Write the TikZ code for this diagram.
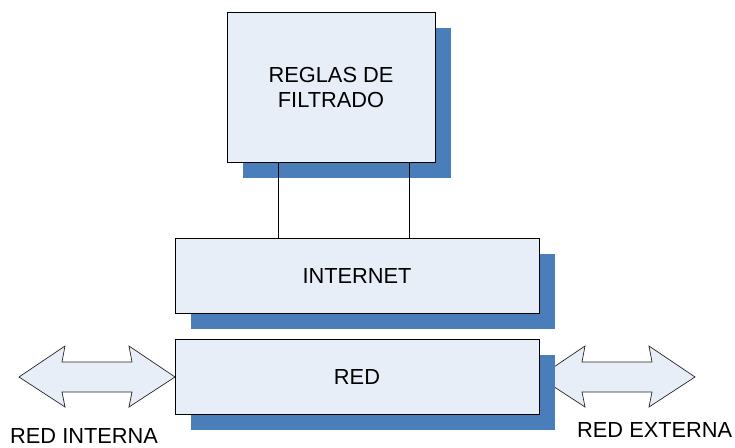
\documentclass[tikz,border=0pt]{standalone}
\usepackage{fontspec}
\setmainfont{Liberation Sans}
\usetikzlibrary{calc,shadows}
\definecolor{boxfill}{RGB}{232,238,248}
\definecolor{shadowblue}{RGB}{74,126,187}
\tikzset{
  block/.style={draw=black, line width=0.9pt, fill=boxfill, inner sep=0pt,
    align=center, font=\fontsize{21.8}{25}\selectfont,
    drop shadow={shadow xshift=16pt, shadow yshift=-15.5pt,
      fill=shadowblue, opacity=1}},
  bigarrow/.style={draw=black!85, line width=0.7pt, fill=boxfill, line join=miter},
  label/.style={font=\fontsize{21.8}{25}\selectfont, inner sep=0pt},
  link/.style={draw=black, line width=0.8pt}
}
\begin{document}
\begin{tikzpicture}[x=1pt,y=-1pt]
\useasboundingbox (0,0) rectangle (735,447);

% double arrows towards the internal and external networks
\draw[bigarrow] (19,377) -- (65,346) -- (62,362) -- (132,362) -- (129,346)
  -- (175,377) -- (129,407) -- (132,392) -- (62,392) -- (65,407) -- cycle;
\draw[bigarrow] (539,377) -- (585,346) -- (582,362) -- (652,362) -- (649,346)
  -- (695,377) -- (649,407) -- (652,392) -- (582,392) -- (585,407) -- cycle;

% blocks
\node[block, minimum width=208pt, minimum height=150pt] (reglas) at (331,87)
  {REGLAS DE\\FILTRADO};
\node[block, minimum width=364pt, minimum height=75pt] (internet) at (357,275.5)
  {INTERNET};
\node[block, minimum width=364pt, minimum height=75pt] (red) at (357,376.5)
  {RED};

% links between the filter rules and the internet block
\coordinate (la) at ($(reglas.south west)!0.25!(reglas.south east)$);
\coordinate (lb) at ($(reglas.south west)!0.875!(reglas.south east)$);
\draw[link] (la) -- (la |- internet.north);
\draw[link] (lb) -- (lb |- internet.north);

% captions
\node[label, anchor=base west] (interna) at (10,443.5) {RED INTERNA};
\node[label, anchor=base west] (externa) at (577,437) {RED EXTERNA};
\end{tikzpicture}
\end{document}
